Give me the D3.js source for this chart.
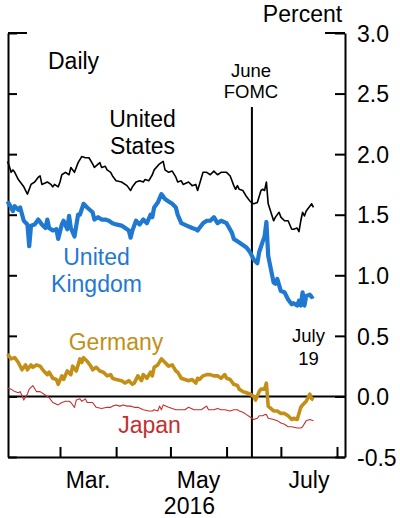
<!DOCTYPE html>
<html><head><meta charset="utf-8">
<script src="https://cdn.jsdelivr.net/npm/d3@7"></script>
<style>body{margin:0;background:#fff}text{font-family:"Liberation Sans",Arial,sans-serif}</style>
</head><body><svg id="c" width="400" height="518"></svg>
<script>
// ---- data (2016, 10-year government bond yields, percent) ----
const usData = [["02-01",1.94],["02-02",1.90],["02-03",1.85],["02-04",1.87],["02-05",1.85],["02-07",1.79],["02-10",1.73],["02-12",1.67],["02-14",1.75],["02-16",1.77],["02-18",1.81],["02-19",1.82],["02-20",1.75],["02-23",1.77],["02-25",1.75],["02-26",1.73],["02-27",1.75],["02-29",1.73],["03-01",1.77],["03-02",1.83],["03-04",1.85],["03-06",1.83],["03-07",1.89],["03-09",1.85],["03-11",1.93],["03-13",1.98],["03-15",1.97],["03-17",1.97],["03-19",1.92],["03-20",1.89],["03-23",1.93],["03-24",1.89],["03-26",1.90],["03-27",1.87],["03-29",1.85],["03-30",1.82],["04-01",1.78],["04-04",1.77],["04-07",1.74],["04-09",1.70],["04-10",1.73],["04-12",1.77],["04-14",1.78],["04-16",1.77],["04-17",1.79],["04-19",1.78],["04-21",1.83],["04-22",1.87],["04-25",1.92],["04-27",1.94],["04-28",1.87],["04-30",1.85],["05-02",1.86],["05-04",1.81],["05-05",1.77],["05-07",1.78],["05-08",1.75],["05-11",1.77],["05-13",1.74],["05-15",1.75],["05-16",1.70],["05-17",1.75],["05-19",1.85],["05-21",1.85],["05-23",1.83],["05-25",1.86],["05-27",1.83],["05-29",1.85],["06-01",1.85],["06-03",1.82],["06-05",1.74],["06-06",1.71],["06-07",1.74],["06-08",1.71],["06-10",1.70],["06-12",1.65],["06-14",1.61],["06-16",1.59],["06-18",1.60],["06-19",1.65],["06-20",1.70],["06-21",1.71],["06-22",1.70],["06-23",1.77],["06-24",1.59],["06-27",1.45],["06-28",1.48],["06-30",1.52],["07-01",1.48],["07-03",1.45],["07-05",1.45],["07-07",1.38],["07-08",1.38],["07-10",1.39],["07-11",1.36],["07-12",1.45],["07-13",1.52],["07-14",1.49],["07-15",1.53],["07-18",1.59],["07-19",1.56]];
const ukData = [["02-01",1.61],["02-03",1.56],["02-04",1.53],["02-05",1.57],["02-07",1.54],["02-08",1.56],["02-10",1.45],["02-12",1.42],["02-13",1.24],["02-14",1.41],["02-16",1.42],["02-18",1.46],["02-20",1.42],["02-22",1.39],["02-23",1.46],["02-24",1.39],["02-26",1.37],["02-28",1.38],["02-29",1.30],["03-02",1.42],["03-03",1.45],["03-05",1.38],["03-06",1.49],["03-07",1.39],["03-09",1.32],["03-11",1.50],["03-12",1.50],["03-14",1.59],["03-16",1.56],["03-19",1.52],["03-20",1.46],["03-22",1.48],["03-24",1.46],["03-26",1.46],["03-28",1.45],["03-30",1.43],["04-01",1.42],["04-04",1.41],["04-06",1.39],["04-08",1.37],["04-09",1.31],["04-10",1.37],["04-12",1.45],["04-14",1.42],["04-16",1.46],["04-18",1.43],["04-20",1.50],["04-21",1.48],["04-22",1.56],["04-24",1.60],["04-26",1.67],["04-28",1.63],["04-30",1.61],["05-02",1.59],["05-04",1.56],["05-05",1.50],["05-07",1.43],["05-10",1.41],["05-13",1.39],["05-15",1.38],["05-16",1.37],["05-17",1.39],["05-19",1.43],["05-21",1.45],["05-23",1.45],["05-25",1.48],["05-27",1.43],["05-29",1.45],["06-01",1.43],["06-04",1.35],["06-05",1.30],["06-07",1.28],["06-09",1.26],["06-12",1.23],["06-14",1.19],["06-16",1.13],["06-18",1.10],["06-19",1.19],["06-21",1.28],["06-22",1.32],["06-23",1.44],["06-24",1.16],["06-27",0.94],["06-28",0.93],["06-29",0.97],["07-01",0.87],["07-03",0.86],["07-05",0.80],["07-07",0.76],["07-08",0.77],["07-10",0.75],["07-11",0.79],["07-12",0.75],["07-13",0.86],["07-14",0.75],["07-15",0.83],["07-17",0.84],["07-18",0.82],["07-19",0.83]];
const deData = [["02-01",0.35],["02-03",0.31],["02-05",0.32],["02-07",0.28],["02-09",0.22],["02-11",0.26],["02-12",0.22],["02-14",0.26],["02-15",0.24],["02-17",0.26],["02-19",0.25],["02-21",0.21],["02-23",0.18],["02-24",0.20],["02-26",0.15],["02-28",0.14],["02-29",0.10],["03-02",0.17],["03-03",0.14],["03-05",0.21],["03-07",0.18],["03-08",0.25],["03-10",0.21],["03-12",0.31],["03-13",0.28],["03-14",0.32],["03-16",0.29],["03-18",0.25],["03-19",0.22],["03-21",0.24],["03-23",0.21],["03-25",0.20],["03-27",0.17],["03-29",0.18],["03-30",0.15],["04-01",0.14],["04-04",0.13],["04-06",0.11],["04-08",0.13],["04-10",0.10],["04-11",0.11],["04-13",0.17],["04-15",0.13],["04-16",0.18],["04-18",0.15],["04-20",0.20],["04-21",0.17],["04-22",0.24],["04-24",0.26],["04-26",0.31],["04-28",0.28],["04-30",0.25],["05-02",0.26],["05-04",0.21],["05-05",0.20],["05-07",0.15],["05-09",0.14],["05-11",0.13],["05-13",0.14],["05-15",0.11],["05-16",0.15],["05-17",0.14],["05-19",0.17],["05-21",0.18],["05-23",0.18],["05-25",0.17],["05-27",0.17],["05-29",0.15],["05-31",0.18],["06-01",0.15],["06-03",0.14],["06-05",0.10],["06-07",0.09],["06-08",0.06],["06-10",0.04],["06-12",0.03],["06-14",0.02],["06-16",0.00],["06-17",-0.03],["06-19",0.04],["06-20",0.06],["06-22",0.06],["06-23",0.11],["06-24",-0.08],["06-27",-0.12],["06-29",-0.12],["07-01",-0.14],["07-03",-0.14],["07-05",-0.16],["07-07",-0.19],["07-08",-0.18],["07-10",-0.19],["07-12",-0.09],["07-13",-0.07],["07-15",-0.04],["07-17",0.02],["07-18",-0.02],["07-19",-0.03]];
const jpData = [["02-01",0.07],["02-03",0.06],["02-05",0.04],["02-07",0.03],["02-08",0.04],["02-10",-0.03],["02-12",0.02],["02-13",0.06],["02-15",0.09],["02-17",0.04],["02-19",0.04],["02-21",0.02],["02-23",0.00],["02-24",-0.01],["02-26",-0.05],["02-29",-0.07],["03-02",-0.05],["03-04",-0.04],["03-06",-0.04],["03-07",-0.05],["03-09",-0.09],["03-10",-0.03],["03-12",-0.02],["03-13",-0.04],["03-15",-0.02],["03-16",-0.05],["03-19",-0.05],["03-21",-0.09],["03-24",-0.10],["03-27",-0.09],["03-29",-0.09],["03-30",-0.08],["04-01",-0.07],["04-03",-0.08],["04-05",-0.07],["04-07",-0.08],["04-09",-0.08],["04-11",-0.09],["04-13",-0.09],["04-16",-0.11],["04-19",-0.12],["04-21",-0.12],["04-22",-0.11],["04-24",-0.12],["04-25",-0.08],["04-26",-0.11],["04-27",-0.07],["04-30",-0.09],["05-02",-0.10],["05-04",-0.11],["05-07",-0.11],["05-09",-0.11],["05-11",-0.09],["05-14",-0.11],["05-16",-0.11],["05-18",-0.11],["05-20",-0.09],["05-21",-0.08],["05-22",-0.11],["05-25",-0.11],["05-27",-0.10],["05-29",-0.11],["05-31",-0.11],["06-03",-0.12],["06-05",-0.11],["06-07",-0.11],["06-08",-0.12],["06-10",-0.13],["06-12",-0.15],["06-14",-0.17],["06-16",-0.19],["06-18",-0.18],["06-19",-0.16],["06-21",-0.16],["06-22",-0.15],["06-23",-0.15],["06-24",-0.18],["06-27",-0.19],["06-29",-0.20],["07-01",-0.22],["07-03",-0.23],["07-05",-0.25],["07-07",-0.25],["07-10",-0.26],["07-12",-0.26],["07-13",-0.25],["07-15",-0.20],["07-17",-0.19],["07-19",-0.20]];
const yTicks = [-0.5, 0.0, 0.5, 1.0, 1.5, 2.0, 2.5, 3.0];
const monthTicks = ["03-01","04-01","05-01","06-01","07-01","08-01"];
const monthLabels = [["Mar.","03-01","04-01"],["May","05-01","06-01"],["July","07-01","08-01"]];
const yearLabel = "2016";
const fomcDate = "06-15";

// ---- layout ----
const parse = d => new Date(`2016-${d}T00:00:00`);
const L = 8, R = 345, T = 33, B = 457;
const x0 = d3.scaleTime().domain([parse("03-01"), parse("08-01")]).range([60, 337]);
const x = d3.scaleTime().domain([x0.invert(L), x0.invert(R)]).range([L, R]);
const y = d3.scaleLinear().domain([-0.5, 3.0]).range([B, T]);
const svg = d3.select("#c");
const FS = 23, FSs = 18.5;

// axes
const rAxis = svg.append("g").attr("transform", `translate(${R},0)`)
  .call(d3.axisRight(y).tickValues(yTicks).tickSizeInner(-10).tickSizeOuter(0).tickPadding(12).tickFormat(d3.format(".1f")));
rAxis.selectAll("text").attr("font-size", FS).attr("font-family", "Liberation Sans, Arial").attr("fill", "#000").attr("dy", "0.36em").text(d => d < 0 ? "-" + Math.abs(d).toFixed(1) : d.toFixed(1));
const lAxis = svg.append("g").attr("transform", `translate(${L},0)`)
  .call(d3.axisRight(y).tickValues(yTicks).tickSizeInner(9).tickSizeOuter(0).tickFormat(""));
const bAxis = svg.append("g").attr("transform", `translate(0,${B})`)
  .call(d3.axisBottom(x).tickValues(monthTicks.map(parse)).tickSizeInner(-10).tickSizeOuter(0).tickFormat(""));
[rAxis, lAxis, bAxis].forEach(g => { g.selectAll("path,line").attr("stroke", "#000").attr("stroke-width", 2); });
// longer top ticks
svg.append("line").attr("x1", L).attr("x2", L + 19).attr("y1", y(3)).attr("y2", y(3)).attr("stroke", "#000").attr("stroke-width", 2);
svg.append("line").attr("x1", R - 20).attr("x2", R).attr("y1", y(3)).attr("y2", y(3)).attr("stroke", "#000").attr("stroke-width", 2);

// month labels
monthLabels.forEach(([lab, a, b]) => {
  svg.append("text").attr("x", (x(parse(a)) + x(parse(b))) / 2).attr("y", 488).attr("text-anchor", "middle").attr("font-size", FS).text(lab);
});
svg.append("text").attr("x", x(parse("05-01")) + 19).attr("y", 514).attr("text-anchor", "middle").attr("font-size", FS).text(yearLabel);

// zero line and FOMC line
svg.append("line").attr("x1", L).attr("x2", R).attr("y1", y(0)).attr("y2", y(0)).attr("stroke", "#000").attr("stroke-width", 2);
svg.append("line").attr("x1", x(parse(fomcDate))).attr("x2", x(parse(fomcDate))).attr("y1", 107).attr("y2", B).attr("stroke", "#000").attr("stroke-width", 2);

// series
const line = d3.line().x(d => x(parse(d[0]))).y(d => y(d[1]));
const series = [[jpData, "#c3302f", 1.1], [deData, "#c38f17", 3.6], [ukData, "#1f78d1", 4.2], [usData, "#000000", 1.6]];
series.forEach(([data, col, w]) => {
  svg.append("path").datum(data).attr("d", line).attr("fill", "none").attr("stroke", col).attr("stroke-width", w).attr("stroke-linejoin", "round");
});

// labels
function label(lines, cx, y0, dy, col, fs, anchor) {
  lines.forEach((t, i) => svg.append("text").attr("x", cx).attr("y", y0 + i * dy).attr("text-anchor", anchor || "middle").attr("font-size", fs).attr("fill", col).text(t));
}
label(["Percent"], 302.5, 21.5, 0, "#000", FS);
label(["Daily"], 48, 68.5, 0, "#000", FS, "start");
label(["United", "States"], 142.5, 126.5, 27.5, "#000", FS);
label(["United", "Kingdom"], 96.5, 264.5, 27, "#1f78d1", FS);
label(["Germany"], 116, 349.5, 0, "#c38f17", FS);
label(["Japan"], 149.5, 433, 0, "#c3302f", FS);
label(["June", "FOMC"], 251, 76.5, 21.5, "#000", FSs);
label(["July", "19"], 308.5, 341.5, 23.5, "#000", FSs);
</script></body></html>
